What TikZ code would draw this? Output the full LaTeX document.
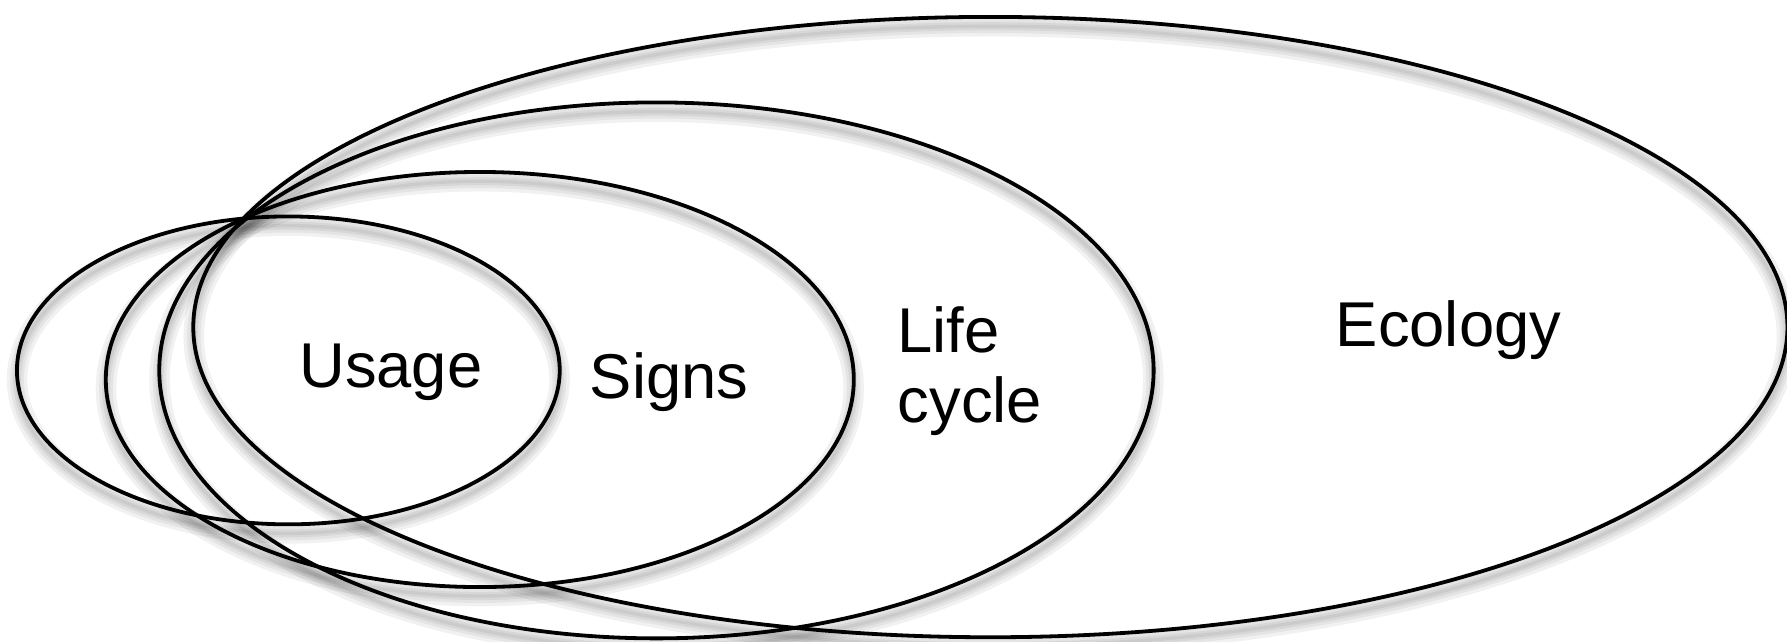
\documentclass[tikz,border=0pt]{standalone}
\usepackage{fontspec}
\setmainfont{Liberation Sans}
\usepackage{tikz}
\usetikzlibrary{shapes.geometric}

\begin{document}
\begin{tikzpicture}[
		x=0.01cm, y=0.01cm,
		ring/.style={
			ellipse,
			draw=black,
			line width=0.95pt,
			inner sep=0pt
		},
		halo/.style={
			draw=black,
			draw opacity=0.055
		},
		tag/.style={
			font=\fontsize{15.8pt}{17.5pt}\selectfont,
			align=left
		}
	]
	
	\useasboundingbox (0,0) rectangle (1568,563);
	
	% soft shadows under the rings
	\foreach \cx/\cy/\rx/\ry in {253/238/238/135, 421/230/328/182, 576/238/436/235, 869/276/699/272}{
		\foreach \w in {0.03,0.07,0.12,0.18}
			\draw[halo, line width=\w cm] (\cx,\cy-8) ellipse [x radius=\rx, y radius=\ry];
	}
	
	% the rings
	\node[ring, minimum width=4.76cm, minimum height=2.70cm] (usage) at (253,238) {};
	\node[ring, minimum width=6.56cm, minimum height=3.64cm] (signs) at (421,230) {};
	\node[ring, minimum width=8.72cm, minimum height=4.70cm] (life) at (576,238) {};
	\node[ring, minimum width=13.98cm, minimum height=5.44cm] (eco) at (869,276) {};
	
	% labels
	\node[tag] (usagelbl) at (343,236) {Usage};
	\node[tag] (signslbl) at (587,228) {Signs};
	\node[tag] (lifelbl) at (851,237) {Life\\cycle};
	\node[tag] (ecolbl) at (1271,273) {Ecology};
	
\end{tikzpicture}
\end{document}
